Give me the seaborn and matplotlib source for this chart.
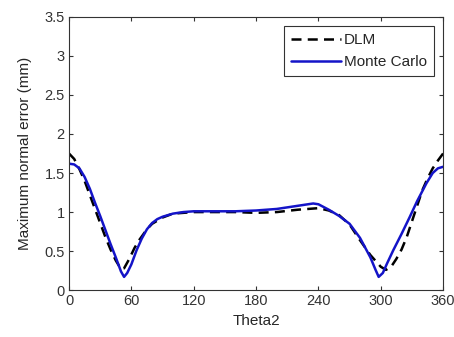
import matplotlib
matplotlib.use('Agg')
import matplotlib.pyplot as plt
import seaborn as sns
import pandas as pd

# Monte Carlo 결과 (각도, 최대 법선 오차)
mc_theta = [0, 5, 10, 15, 20, 25, 30, 35, 40, 45, 50, 53, 56, 60, 65, 70, 75, 80, 85, 90,
            100, 110, 120, 140, 160, 180, 200, 220, 235, 240, 250, 260, 270, 280, 290,
            295, 298, 302, 306, 312, 320, 328, 335, 344, 350, 355, 360]
mc_err = [1.62, 1.61, 1.56, 1.45, 1.30, 1.12, 0.95, 0.77, 0.59, 0.42, 0.24, 0.17, 0.22,
          0.33, 0.51, 0.66, 0.78, 0.86, 0.91, 0.94, 0.98, 1.00, 1.01, 1.01, 1.01, 1.02,
          1.04, 1.08, 1.11, 1.10, 1.03, 0.95, 0.85, 0.67, 0.42, 0.26, 0.17, 0.22, 0.34,
          0.51, 0.72, 0.94, 1.14, 1.37, 1.50, 1.56, 1.58]

# DLM 결과
dlm_theta = [0, 5, 10, 15, 20, 25, 30, 35, 40, 45, 50, 53, 58, 63, 68, 75, 80, 90, 100,
             120, 140, 160, 180, 200, 220, 240, 250, 260, 270, 280, 290, 300, 305, 310,
             315, 320, 325, 330, 335, 340, 345, 350, 355, 360]
dlm_err = [1.75, 1.68, 1.55, 1.40, 1.22, 1.04, 0.86, 0.68, 0.52, 0.38, 0.27, 0.28, 0.40,
           0.54, 0.65, 0.78, 0.85, 0.93, 0.98, 1.00, 1.00, 1.00, 0.99, 1.00, 1.03, 1.05,
           1.02, 0.96, 0.84, 0.64, 0.45, 0.30, 0.26, 0.30, 0.40, 0.52, 0.68, 0.88, 1.08,
           1.28, 1.43, 1.56, 1.66, 1.75]

x_ticks = [0, 60, 120, 180, 240, 300, 360]
y_ticks = [0, 0.5, 1, 1.5, 2, 2.5, 3, 3.5]

sns.set_style('ticks')
plt.rcParams['font.family'] = ['Liberation Sans', 'DejaVu Sans']
plt.rcParams['xtick.direction'] = 'in'
plt.rcParams['ytick.direction'] = 'in'

df_mc = pd.DataFrame({'theta': mc_theta, 'err': mc_err})
df_dlm = pd.DataFrame({'theta': dlm_theta, 'err': dlm_err})

fig = plt.figure(figsize=(4.54, 3.37), dpi=100)
ax = fig.add_axes([0.152, 0.139, 0.824, 0.811])

sns.lineplot(x='theta', y='err', data=df_dlm, ax=ax, color='black', lw=1.8,
             linestyle=(0, (4, 2.5)), label='DLM')
sns.lineplot(x='theta', y='err', data=df_mc, ax=ax, color='#1414c8', lw=1.8,
             label='Monte Carlo')

ax.set_xlim(0, 360)
ax.set_ylim(0, 3.5)
ax.set_xticks(x_ticks)
ax.set_yticks(y_ticks)
ax.set_xticklabels([str(t) for t in x_ticks])
ax.set_yticklabels(['0', '0.5', '1', '1.5', '2', '2.5', '3', '3.5'])
ax.tick_params(axis='both', labelsize=10.5, length=3, width=0.8, colors='#333333',
               top=True, right=True, pad=3)
for s in ax.spines.values():
    s.set_visible(True)
    s.set_color('#333333')
    s.set_linewidth(0.8)

ax.set_xlabel('Theta2', fontsize=11, labelpad=4)
ax.set_ylabel('Maximum normal error (mm)', fontsize=11, labelpad=9)

leg = ax.legend(loc='upper right', fontsize=11, frameon=True, fancybox=False,
                edgecolor='black', handlelength=3.3, borderaxespad=0.6,
                handletextpad=0.2, borderpad=0.45, labelspacing=0.55)
leg.get_frame().set_linewidth(0.8)

fig.savefig('out.png', dpi=100)
